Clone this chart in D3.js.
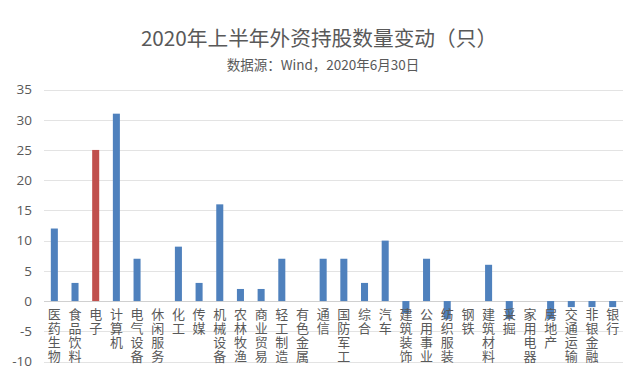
<!DOCTYPE html>
<html><head><meta charset="utf-8">
<script src="https://cdn.jsdelivr.net/npm/d3@7"></script>
<style>
body{margin:0;background:#fff;}
svg{display:block;font-family:"Noto Sans CJK SC","Microsoft YaHei",sans-serif;}
.vlab{writing-mode:vertical-rl;text-orientation:upright;}
</style></head>
<body>
<svg id="c" width="640" height="379"></svg>
<script>
const categories = ["医药生物","食品饮料","电子","计算机","电气设备","休闲服务","化工","传媒","机械设备","农林牧渔","商业贸易","轻工制造","有色金属","通信","国防军工","综合","汽车","建筑装饰","公用事业","纺织服装","钢铁","建筑材料","采掘","家用电器","房地产","交通运输","非银金融","银行"];
const values = [12,3,25,31,7,0,9,3,16,2,2,7,0,7,7,3,10,-2,7,-3,0,6,-3,0,-3,-1,-1,-1];
const highlight = ["电子"];
const yTicks = [-10,-5,0,5,10,15,20,25,30,35];
const title = "2020年上半年外资持股数量变动（只）";
const subtitle = "数据源：Wind，2020年6月30日";

const svg = d3.select("#c");
const x = d3.scaleBand().domain(categories).range([44, 623]).paddingInner(0.66).paddingOuter(0.33);
const y = d3.scaleLinear().domain([-10, 35]).range([361.5, 89.5]);

svg.append("text").attr("x", 319).attr("y", 46).attr("text-anchor","middle")
  .attr("font-size", 20.7).attr("fill", "#595959").text(title);
svg.append("text").attr("x", 323).attr("y", 70).attr("text-anchor","middle")
  .attr("font-size", 13.5).attr("fill", "#595959").text(subtitle);

// grid
svg.append("g").selectAll("line").data(yTicks).join("line")
  .attr("x1", 44).attr("x2", 623)
  .attr("y1", d => Math.round(y(d)) + 0.5).attr("y2", d => Math.round(y(d)) + 0.5)
  .attr("stroke", d => d === 0 ? "#d0d0d0" : "#e3e3e3").attr("stroke-width", 1);

// y axis labels
const yAxis = d3.axisLeft(y).tickValues(yTicks).tickSize(0).tickPadding(0).tickFormat(d => String(d));
const ga = svg.append("g").attr("transform", "translate(32,0)").call(yAxis);
ga.select(".domain").remove();
ga.selectAll("text").attr("font-size", 13.5).attr("fill", "#595959")
  .attr("font-family", "'Open Sans','Noto Sans',sans-serif");

// bars
svg.append("g").selectAll("rect").data(categories).join("rect")
  .attr("x", d => x(d))
  .attr("width", x.bandwidth())
  .attr("y", (d,i) => y(Math.max(0, values[i])))
  .attr("height", (d,i) => Math.abs(y(values[i]) - y(0)))
  .attr("fill", d => highlight.includes(d) ? "#C0504D" : "#4F81BD");

// x labels, vertical upright text
svg.append("g").selectAll("text").data(categories).join("text")
  .attr("class", "vlab")
  .attr("x", d => x(d) + x.bandwidth()/2)
  .attr("y", 308)
  .attr("font-size", 13)
  .attr("letter-spacing", 0.7)
  .attr("fill", "#595959")
  .text(d => d);
</script>
</body></html>
